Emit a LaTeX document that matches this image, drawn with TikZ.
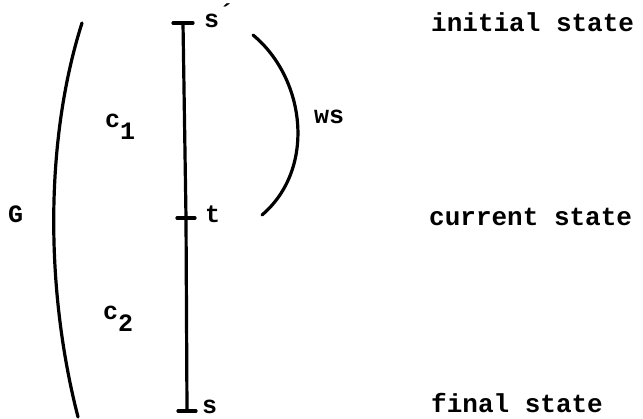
\documentclass[tikz,border=0pt]{standalone}
\usepackage{fontspec}
\setmonofont{Liberation Mono}
\usetikzlibrary{positioning,calc}
\newcommand{\lowsub}[1]{\raisebox{-12pt}{#1}}
\tikzset{
    % Base style for all labels
    label base/.style={
        font=\ttfamily\bfseries\fontsize{25}{28}\selectfont,
        inner sep=0pt,
        anchor=base west,
    },
    % State names on the right
    state name/.style={
        label base,
        font=\ttfamily\bfseries\fontsize{26}{28}\selectfont,
    },
    % Time line, ticks and brackets
    stroke/.style={
        line width=3.2pt,
        line cap=round,
    },
}

\begin{document}
\begin{tikzpicture}[x=1pt, y=1pt]
    \useasboundingbox (0,0) rectangle (643,419);

    % points on the time line
    \coordinate (sprime) at (183,396);
    \coordinate (t) at (186,201);
    \coordinate (s) at (187,8);

    \node (lsprime) [label base] at (204,391) {s\raisebox{6pt}{´}};
    \node (lt) [label base] at (205,196) {t};
    \node (ls) [label base] at (202,5) {s};

    \node (c1) [label base] at (105,291) {c\lowsub{1}};
    \node (c2) [label base] at (103,99) {c\lowsub{2}};
    \node (g) [label base] at (8,196) {G};
    \node (ws) [label base] at (314,295) {ws};

    \node (initial) [state name] at (431,387) {initial state};
    \node (current) [state name] at (429,193) {current state};
    \node (final) [state name] at (431,6) {final state};

    % time line with ticks
    \draw [stroke] (sprime) -- (t) -- (s);
    \draw [stroke] ($(sprime)+(-10,0)$) -- ($(sprime)+(10,0)$);
    \draw [stroke] ($(t)+(-9,0)$) -- ($(t)+(9,0)$);
    \draw [stroke] ($(s)+(-9,0)$) -- ($(s)+(9,0)$);

    % brackets
    \coordinate (ws top) at (253,384);
    \coordinate (ws bot) at (262,204);
    \draw [stroke] (ws top) .. controls (306,340) and (316,250) .. (ws bot);
    \coordinate (g top) at (82,396);
    \coordinate (g bot) at (78,2);
    \draw [stroke] (g top) .. controls (45,280) and (45,130) .. (g bot);
\end{tikzpicture}
\end{document}
